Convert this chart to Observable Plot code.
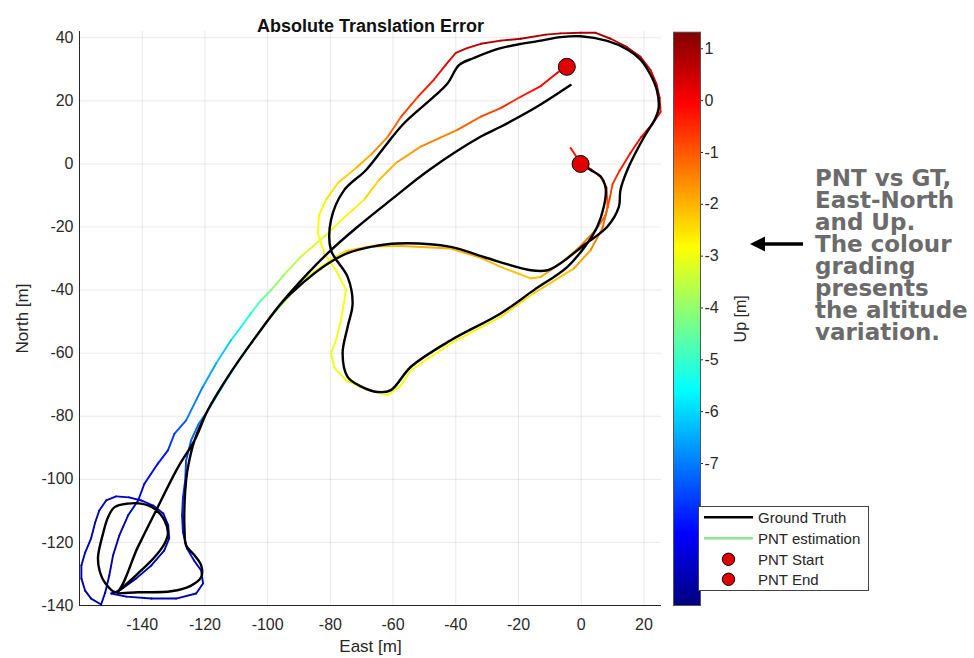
<!DOCTYPE html>
<html><head><meta charset="utf-8">
<script src="https://cdn.jsdelivr.net/npm/d3@7"></script>
<script src="https://cdn.jsdelivr.net/npm/@observablehq/plot@0.6"></script>
<style>
body{margin:0;background:#fff;}
#wrap{position:relative;width:974px;height:658px;overflow:hidden;background:#fff;font-family:"Liberation Sans",Arial,sans-serif;}
#wrap > *{position:absolute;}
#note{left:815px;top:167px;font-family:"DejaVu Sans",Verdana,sans-serif;font-weight:bold;font-size:23px;line-height:22px;color:#6b6b6b;white-space:pre;letter-spacing:0px;}
</style></head><body><div id="wrap"></div>
<script>
// ---------- Ground truth trajectory (East, North in metres) ----------
const gtEast = [-3.4,-14.0,-25.7,-32.0,-48.5,-60.7,-71.3,-79.8,-87.2,-95.7,-105.3,-112.7,-119.1,-123.3,-128.6,-136.1,-141.4,-148.3,
  -152.0,-153.6,-154.1,-152.5,-150.9,-148.8,-144.6,-140.3,-136.1,-132.9,-131.8,-132.9,-136.1,-141.4,-146.7,-148.1,
  -141.4,-130.8,-124.4,-121.2,-121.2,-123.3,-126.0,-126.5,-126.5,-126.0,-125.4,-123.3,-119.1,-112.7,-105.3,-95.7,
  -92.5,-85.1,-79.8,-74.5,-67.1,-58.6,-41.6,-31.1,-16.1,-10.7,-6.6,0.9,8.3,12.0,12.5,14.7,19.9,23.7,24.7,24.2,22.1,18.9,14.7,8.3,
  -0.2,-6.6,-12.9,-25.7,-34.2,-38.9,-42.6,-46.9,-56.5,-61.8,-68.6,-75.6,-79.8,-79.8,-74.5,-72.9,-74.5,-76.1,-74.5,-70.3,-64.9,-60.7,
  -54.3,-41.6,-25.7,-15.1,-4.4,1.9,5.1,7.2,7.8,6.2,3.0,-0.2];
const gtNorth = [25.0,18.2,11.8,8.7,-1.9,-11.4,-19.9,-27.3,-34.7,-44.2,-56.9,-67.5,-78.1,-87.6,-96.2,-110.9,-121.5,-135.8,
  -132.6,-128.9,-124.7,-117.2,-112.0,-108.8,-107.7,-107.7,-109.3,-113.0,-117.2,-120.4,-124.7,-129.9,-134.7,-135.9,
  -135.8,-135.5,-133.7,-131.0,-127.3,-124.1,-121.0,-116.2,-107.7,-100.3,-96.1,-87.6,-78.1,-67.5,-56.9,-44.2,
  -41.0,-34.7,-31.0,-28.3,-26.3,-25.2,-26.3,-29.5,-33.7,-33.7,-31.5,-25.7,-19.9,-13.6,-8.3,-1.9,8.3,14.6,17.8,23.1,28.3,33.1,36.3,39.0,
  40.5,40.2,39.1,36.7,33.6,31.4,25.6,21.4,12.9,6.6,-1.9,-8.3,-17.8,-27.3,-35.8,-44.2,-51.7,-60.1,-67.5,-70.5,-72.3,-71.7,
  -64.3,-55.9,-47.4,-40.0,-32.6,-25.2,-19.9,-13.6,-7.7,-4.0,-1.9,0.2];

// ---------- PNT estimation (East, North, Up in metres) ----------
const pntEast = [-4.65,-7.6,-12.9,-19.3,-25.7,-32.0,-39.5,-51.2,-59.1,-64.5,-69.3,-75.7,-81.4,-89.4,-94.8,-98.9,-102.1,-105.3,-108.5,-111.7,
  -116.4,-120.7,-126.0,-129.7,-131.8,-135.0,-139.3,-141.3,-144.5,-147.3,-149.3,-150.5,-151.8,-153.1,-156.3,-158.2,-159.4,-159.4,-158.2,-156.3,
  -155.0,-153.7,-151.5,-148.3,-144.2,-140.3,-136.5,-133.3,-131.7,-131.4,-133.0,-137.1,-141.9,-147.3,-149.9,-145.1,-137.1,-129.2,-122.8,-120.6,
  -121.2,-123.5,-125.7,-127.0,-127.3,-127.0,-126.3,-126.0,-124.4,-121.9,-119.0,-114.2,-109.1,-104.7,-99.9,-94.8,-90.3,-84.6,-78.9,-75.0,
  -68.0,-57.5,-41.6,-32.0,-25.7,-16.1,-12.9,-9.7,-5.0,-0.2,4.6,7.8,9.0,10.0,12.2,15.7,19.2,22.7,25.3,25.0,
  24.0,22.1,18.9,14.5,9.4,4.6,-0.2,-6.6,-11.3,-19.3,-25.7,-32.0,-36.2,-40.0,-43.2,-47.0,-52.1,-57.5,-61.7,-67.1,
  -71.8,-77.6,-81.4,-83.6,-84.0,-81.9,-78.2,-75.0,-76.6,-78.2,-79.8,-78.8,-75.0,-68.1,-61.8,-57.5,-54.3,-41.6,-25.7,-15.1,
  -2.3,3.0,6.8,8.4,8.1,6.2,3.0,-0.2,-3.4];
const pntNorth = [30.8,28.9,24.7,21.3,17.7,15.0,10.8,5.5,0.3,-5.1,-11.4,-17.1,-22.5,-29.4,-35.2,-40.0,-43.2,-47.3,-51.7,-55.9,
  -63.2,-70.7,-81.3,-85.5,-90.8,-95.0,-101.4,-106.7,-111.4,-117.8,-124.1,-130.5,-135.9,-139.7,-137.8,-135.3,-131.4,-127.3,-123.2,-118.7,
  -113.7,-109.9,-106.7,-105.4,-105.7,-106.7,-108.3,-110.8,-114.6,-118.7,-122.6,-127.3,-131.4,-135.3,-136.2,-137.2,-137.8,-137.8,-136.2,-133.0,
  -128.9,-125.7,-121.9,-116.8,-111.4,-105.7,-100.3,-94.0,-87.6,-82.2,-78.1,-70.2,-62.2,-55.9,-49.5,-43.8,-38.4,-33.7,-29.8,-27.6,
  -26.2,-26.0,-26.8,-29.8,-32.6,-36.3,-35.8,-33.7,-30.2,-26.0,-21.0,-16.2,-11.4,-6.4,-2.2,3.5,8.6,12.7,16.5,21.0,
  25.4,29.8,34.0,37.1,39.7,41.6,41.6,41.4,41.0,39.7,39.1,38.1,36.8,35.2,31.4,26.7,21.3,14.9,8.6,2.9,
  -1.3,-6.0,-11.4,-16.2,-22.0,-28.4,-33.7,-40.0,-49.5,-55.9,-60.1,-64.4,-68.6,-71.7,-73.3,-70.2,-65.4,-56.9,-48.5,-41.0,
  -33.1,-27.3,-20.3,-13.7,-7.6,-4.1,-1.6,0.3,5.1];
const pntUp = [0.3,0.1,0.0,-0.3,-0.6,-0.9,-1.3,-1.6,-1.9,-2.2,-2.5,-2.8,-3.1,-3.5,-3.8,-4.2,-4.6,-5.1,-5.6,-6.0,
  -6.4,-6.8,-7.3,-7.6,-8.0,-8.3,-8.8,-9.0,-9.2,-9.3,-9.3,-9.3,-9.3,-9.3,-9.3,-9.3,-9.3,-9.3,-9.2,-9.2,
  -9.2,-9.1,-9.1,-9.0,-9.0,-9.0,-9.0,-9.0,-9.0,-9.1,-9.1,-9.2,-9.2,-9.3,-9.3,-9.3,-9.3,-9.2,-9.1,-9.0,
  -8.9,-8.8,-8.6,-8.4,-8.2,-8.0,-7.8,-7.6,-7.4,-7.1,-6.8,-6.2,-5.5,-4.9,-4.3,-3.7,-3.3,-3.0,-2.6,-2.3,
  -2.1,-2.0,-1.9,-2.0,-2.1,-2.2,-2.0,-1.8,-1.6,-1.4,-1.2,-1.0,-0.8,-0.6,-0.4,-0.2,0.0,0.1,0.2,0.3,
  0.4,0.5,0.6,0.7,0.8,0.9,0.9,0.9,0.9,0.9,0.9,0.8,0.6,0.4,0.2,-0.2,-0.5,-0.9,-1.3,-1.8,
  -2.1,-2.4,-2.6,-2.8,-2.9,-2.9,-2.9,-2.9,-2.9,-3.0,-3.0,-3.0,-3.0,-3.0,-3.0,-3.0,-2.9,-2.8,-2.6,-2.4,
  -2.0,-1.6,-1.3,-1.0,-0.8,-0.6,-0.4,-0.3,-0.3];

// ---------- Markers ----------
const markerLabel = ["PNT Start", "PNT End"];
const markerEast = [-4.6, -0.2];
const markerNorth = [30.8, 0.0];

// ---------- Ticks / scale domains ----------
const xTicks = [-140,-120,-100,-80,-60,-40,-20,0,20];
const yTicks = [-140,-120,-100,-80,-60,-40,-20,0,20,40];
const upTicks = [-7,-6,-5,-4,-3,-2,-1,0,1];
const upDomain = [-9.74, 1.32];
const legendLabels = ["Ground Truth","PNT estimation","PNT Start","PNT End"];

// MATLAB "jet" colormap
function jet(t){
  const c = v => Math.max(0, Math.min(1, v));
  const r = c(1.5 - Math.abs(4*t - 3)), g = c(1.5 - Math.abs(4*t - 2)), b = c(1.5 - Math.abs(4*t - 1));
  return `rgb(${Math.round(r*255)},${Math.round(g*255)},${Math.round(b*255)})`;
}

const gt = gtEast.map((e,i) => ({E:e, N:gtNorth[i]}));
const pnt = pntEast.map((e,i) => ({E:e, N:pntNorth[i], U:pntUp[i]}));
const segs = pnt.slice(1).map((p,i) => ({x1:pnt[i].E, y1:pnt[i].N, x2:p.E, y2:p.N, U:(pnt[i].U + p.U)/2}));
const markers = markerLabel.map((l,i) => ({label:l, E:markerEast[i], N:markerNorth[i]}));
const colorOpts = {type:"linear", domain:upDomain, interpolate:jet};
const fmt = d => String(d);
const wrap = document.getElementById("wrap");

const main = Plot.plot({
  width:974, height:658, marginLeft:79, marginRight:313, marginTop:31, marginBottom:53,
  style:{fontFamily:'"Liberation Sans", Arial, sans-serif', fontSize:"16px", color:"#2a2a2a", background:"transparent", overflow:"visible"},
  x:{domain:[-160,25.6], ticks:xTicks, tickFormat:fmt, tickSize:0, tickPadding:13, grid:true, label:null},
  y:{domain:[-140,42], ticks:yTicks, tickFormat:fmt, tickSize:0, tickPadding:6, grid:true, label:null},
  color:colorOpts,
  marks:[
    Plot.ruleX([-160], {stroke:"#262626", strokeWidth:1}),
    Plot.ruleY([-140], {stroke:"#262626", strokeWidth:1}),
    Plot.link(segs, {x1:"x1", y1:"y1", x2:"x2", y2:"y2", stroke:"U", strokeWidth:1.9, strokeLinecap:"round"}),
    Plot.line(gt, {x:"E", y:"N", stroke:"black", strokeWidth:2.4, curve:"catmull-rom"}),
    Plot.dot(markers, {x:"E", y:"N", r:8.5, fill:"#e00000", stroke:"black", strokeWidth:1}),
    Plot.text(["Absolute Translation Error"], {text:d=>d, frameAnchor:"top", textAnchor:"middle", dy:-12.5, fontSize:18, fontWeight:"bold", fill:"#111"}),
    Plot.text(["East [m]"], {text:d=>d, frameAnchor:"bottom", textAnchor:"middle", dy:46.5, fontSize:17, fill:"#262626"}),
    Plot.text(["North [m]"], {text:d=>d, frameAnchor:"left", textAnchor:"middle", dx:-57, rotate:-90, fontSize:17, fill:"#262626"})
  ]
});
main.style.left = "0px"; main.style.top = "0px";
wrap.appendChild(main);

// ---------- Colour bar ----------
const nb = 240, step = (upDomain[1] - upDomain[0]) / nb;
const bands = d3.range(nb).map(i => upDomain[0] + i*step);
const cbar = Plot.plot({
  width:120, height:658, marginLeft:0, marginRight:93, marginTop:31.7, marginBottom:53,
  style:{fontFamily:'"Liberation Sans", Arial, sans-serif', fontSize:"16px", color:"#2a2a2a", background:"transparent", overflow:"visible"},
  x:{domain:[0,1], axis:null},
  y:{domain:upDomain, axis:"right", ticks:upTicks, tickFormat:fmt, tickSize:2, tickPadding:2, label:null},
  color:colorOpts,
  marks:[
    Plot.rect(bands, {x1:0, x2:1, y1:d=>d, y2:d=>Math.min(upDomain[1], d + step*1.3), fill:d=>d + step/2, shapeRendering:"crispEdges"}),
    Plot.frame({stroke:"#555"}),
    Plot.text(["Up [m]"], {text:d=>d, frameAnchor:"right", textAnchor:"middle", dx:40, rotate:-90, fontSize:16, fill:"#262626"})
  ]
});
cbar.style.left = "673px"; cbar.style.top = "0px";
wrap.appendChild(cbar);

// ---------- Legend ----------
const leg = d3.create("svg").attr("width",171).attr("height",86)
  .style("left","698px").style("top","506px").style("overflow","visible");
leg.append("rect").attr("x",0.5).attr("y",0.5).attr("width",170).attr("height",84)
  .attr("fill","white").attr("stroke","#444").attr("stroke-width",1);
const ly = [11.3, 32.3, 53.3, 73.3];
leg.append("line").attr("x1",6).attr("x2",55).attr("y1",ly[0]).attr("y2",ly[0]).attr("stroke","black").attr("stroke-width",2.5);
leg.append("line").attr("x1",6).attr("x2",55).attr("y1",ly[1]).attr("y2",ly[1]).attr("stroke","#8de88d").attr("stroke-width",2.5);
[2,3].forEach(i => leg.append("circle").attr("cx",30.5).attr("cy",ly[i]).attr("r",6.2)
  .attr("fill","#e00000").attr("stroke","black").attr("stroke-width",1));
legendLabels.forEach((t,i) => leg.append("text").attr("x",60).attr("y",ly[i]).attr("dy","0.35em")
  .attr("font-family",'"Liberation Sans", Arial, sans-serif').attr("font-size",15).attr("fill","#262626").text(t));
wrap.appendChild(leg.node());

// ---------- Annotation + arrow ----------
const note = document.createElement("div");
note.id = "note";
note.textContent = "PNT vs GT,\nEast-North\nand Up.\nThe colour\ngrading\npresents\nthe altitude\nvariation.";
wrap.appendChild(note);

const arr = d3.create("svg").attr("width",64).attr("height",22).style("left","745px").style("top","233px");
arr.append("line").attr("x1",58).attr("x2",16).attr("y1",11).attr("y2",11).attr("stroke","black").attr("stroke-width",3.3);
arr.append("polygon").attr("points","5,11 20,3.5 20,18.5").attr("fill","black");
wrap.appendChild(arr.node());
</script></body></html>
